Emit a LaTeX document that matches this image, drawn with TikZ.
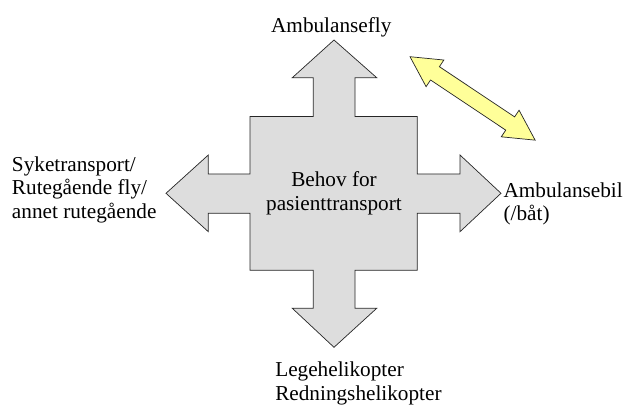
\documentclass[tikz,border=0pt]{standalone}
\usepackage{fontspec}
\setmainfont{Liberation Serif}
\usepackage{tikz}
\usepackage{xcolor}
\definecolor{kryssgraa}{HTML}{DDDDDD}
\definecolor{pilgul}{HTML}{FFFF99}

\begin{document}
\begin{tikzpicture}[x=0.025cm,y=-0.025cm,
	etikett/.style={inner sep=0pt,font=\fontsize{15.1}{16.9}\selectfont},
	omriss/.style={draw=black!85,line width=0.5pt}]
	\useasboundingbox (0,0) rectangle (629,406);
	\filldraw [omriss,fill=kryssgraa] (334,40)--(376.7,77.7)--(355,77.7)--(355,116.5)--(417.3,116.5)--(417.3,174)--(460,174)--(460,155)--(501,193.3)--(460,231.7)--(460,213.3)--(417.3,213.3)--(417.3,270.3)--(355,270.3)--(355,308.3)--(376.7,308.3)--(334,347.3)--(292.3,308.3)--(313.3,308.3)--(313.3,270.3)--(250,270.3)--(250,213.3)--(208.3,213.3)--(208.3,231.7)--(166,193.3)--(208.3,155)--(208.3,174)--(250,174)--(250,116.5)--(313.3,116.5)--(313.3,77.7)--(292.3,77.7)--cycle;
	\begin{scope}[shift={(410,56.7)},rotate=-33.7]
	\filldraw [omriss,fill=pilgul] (0,0)--(30,-16)--(30,-8)--(120.4,-8)--(120.4,-16)--(150.4,0)--(120.4,16)--(120.4,8)--(30,8)--(30,16)--cycle;
	\end{scope}
	\node [etikett,align=center] (behov) at (334,193.4){Behov for\\pasienttransport};
	\node [etikett,anchor=base] (fly) at (331.3,33){Ambulansefly};
	\node [etikett,align=left,anchor=west] (syketransport) at (11.7,189.7){Syketransport/\\Rutegående fly/\\annet rutegående};
	\node [etikett,align=left,anchor=west] (bil) at (503.3,204){Ambulansebil\\(/båt)};
	\node [etikett,align=left,anchor=south west] (helikopter) at (275,405.5){Legehelikopter\\Redningshelikopter};
\end{tikzpicture}
\end{document}
